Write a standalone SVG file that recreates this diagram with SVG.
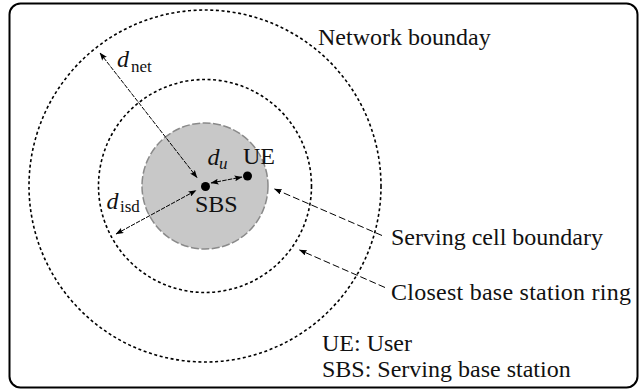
<svg xmlns="http://www.w3.org/2000/svg" width="639" height="390" viewBox="0 0 639 390">
  <defs>
    <marker id="ah" viewBox="0 0 8 6" refX="7.5" refY="3" markerWidth="8" markerHeight="6" markerUnits="userSpaceOnUse" orient="auto-start-reverse">
      <path d="M0,0 Q2.5,3 0,6 L8,3 Z" fill="#000"/>
    </marker>
    <style>
      text { font-family: 'Liberation Serif', 'Times New Roman', serif; fill: #111; }
      .t { font-size: 24px; }
      .mi { font-style: italic; font-size: 24px; }
      .sub { font-size: 17px; }
      .subi { font-style: italic; font-size: 17px; }
      .ring { fill: none; stroke: #000; stroke-width: 1.6; stroke-dasharray: 3 2.6; }
      .dim { fill: none; stroke: #000; stroke-width: 1; stroke-dasharray: 4.5 1.2; marker-start: url(#ah); marker-end: url(#ah); }
      .ptr { fill: none; stroke: #000; stroke-width: 1; stroke-dasharray: 7 3; marker-end: url(#ah); }
    </style>
  </defs>
  <rect width="639" height="390" fill="#fff"/>
  <g id="frame">
    <rect x="9.5" y="3.5" width="628" height="384" rx="11" ry="11" fill="none" stroke="#000" stroke-width="2"/>
  </g>
  <g id="network-boundary">
    <circle cx="205" cy="186" r="176" class="ring"/>
    <text x="318" y="45" class="t">Network bounday</text>
  </g>
  <g id="closest-ring">
    <circle cx="205" cy="186" r="106.5" class="ring"/>
  </g>
  <g id="serving-cell">
    <circle cx="205" cy="186" r="63" fill="#c8c8c8" stroke="#8a8a8a" stroke-width="1.5" stroke-dasharray="8 2.5"/>
  </g>
  <g id="sbs">
    <circle cx="205.5" cy="186.5" r="4.5" fill="#000"/>
    <text x="195" y="211.5" class="t">SBS</text>
  </g>
  <g id="ue">
    <circle cx="247.5" cy="176" r="4.5" fill="#000"/>
    <text x="243" y="163.5" class="t">UE</text>
  </g>
  <g id="connectors">
    <line x1="100" y1="53" x2="197" y2="177.5" class="dim"/>
    <line x1="116" y1="234" x2="196" y2="190.5" class="dim"/>
    <line x1="211" y1="183" x2="242" y2="177" class="dim"/>
    <line x1="382" y1="235.5" x2="274.5" y2="189" class="ptr"/>
    <line x1="385" y1="287.5" x2="299.5" y2="250" class="ptr"/>
  </g>
  <g id="labels">
    <text class="mi" x="117" y="66.5">d</text>
    <text class="sub" x="131" y="72">net</text>
    <text class="mi" x="106.5" y="208.5">d</text>
    <text class="sub" x="120" y="212">isd</text>
    <text class="mi" x="207.5" y="165">d</text>
    <text class="subi" x="219" y="168.5">u</text>
    <text x="391" y="245" class="t">Serving cell boundary</text>
    <text x="391" y="299.5" class="t" textLength="240" lengthAdjust="spacing">Closest base station ring</text>
    <text x="322" y="351" class="t">UE: User</text>
    <text x="322" y="376.5" class="t">SBS: Serving base station</text>
  </g>
</svg>
